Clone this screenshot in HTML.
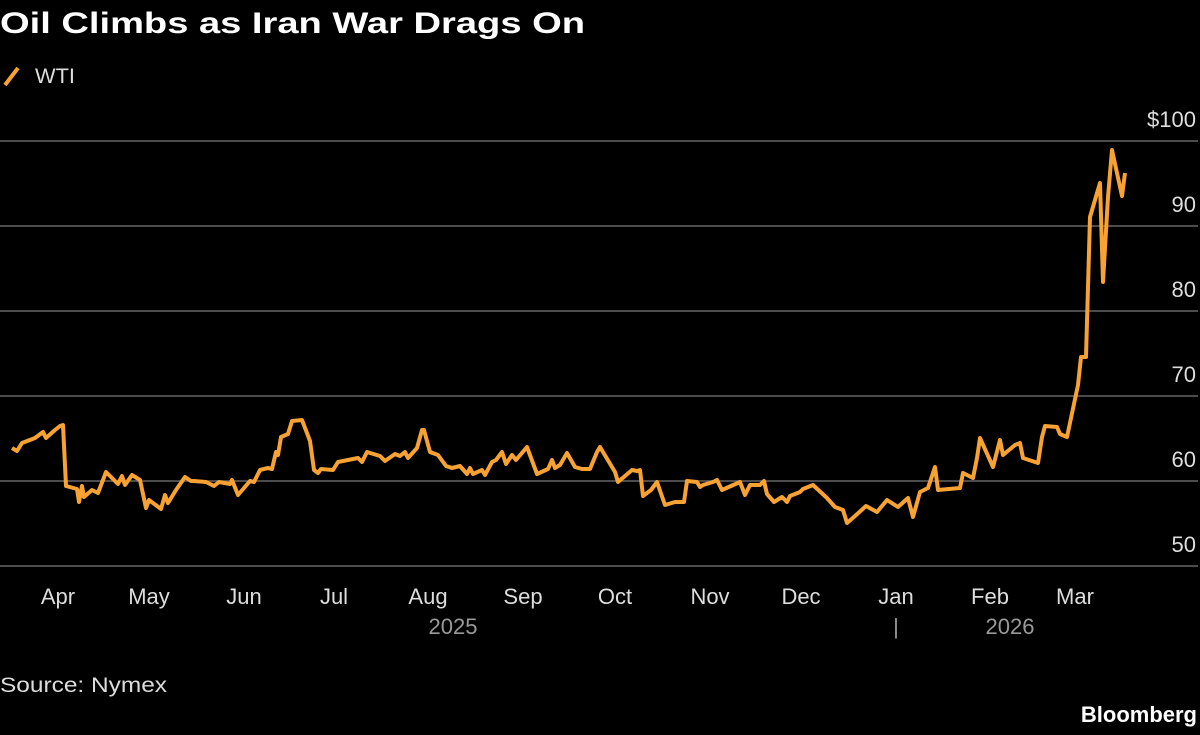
<!DOCTYPE html>
<html><head><meta charset="utf-8"><style>
body{margin:0;background:#000;width:1200px;height:730px;overflow:hidden;font-family:"Liberation Sans",sans-serif}
</style></head><body>
<svg width="1200" height="730" xmlns="http://www.w3.org/2000/svg" font-family="Liberation Sans, sans-serif">
<rect width="1200" height="730" fill="#000"/>
<text x="0" y="33" fill="#fff" font-size="30" font-weight="bold" textLength="585" lengthAdjust="spacingAndGlyphs">Oil Climbs as Iran War Drags On</text>
<line x1="5" y1="85" x2="18" y2="68" stroke="#f7a233" stroke-width="4"/>
<text x="35" y="83" fill="#ddd" font-size="21" textLength="40" lengthAdjust="spacingAndGlyphs">WTI</text>
<g stroke="#666" stroke-width="1.5">
<line x1="0" y1="141" x2="1198" y2="141"/><line x1="0" y1="226" x2="1198" y2="226"/>
<line x1="0" y1="311" x2="1198" y2="311"/><line x1="0" y1="396" x2="1198" y2="396"/>
<line x1="0" y1="481" x2="1198" y2="481"/><line x1="0" y1="566" x2="1198" y2="566"/>
</g>
<g fill="#ddd" font-size="22" text-anchor="end">
<text x="1196" y="127">$100</text><text x="1196" y="212">90</text><text x="1196" y="297">80</text>
<text x="1196" y="382">70</text><text x="1196" y="467">60</text><text x="1196" y="552">50</text>
</g>
<g fill="#ddd" font-size="22" text-anchor="middle">
<text x="58" y="604">Apr</text><text x="149" y="604">May</text><text x="244" y="604">Jun</text>
<text x="334" y="604">Jul</text><text x="428" y="604">Aug</text><text x="523" y="604">Sep</text>
<text x="615" y="604">Oct</text><text x="710" y="604">Nov</text><text x="801" y="604">Dec</text>
<text x="896" y="604">Jan</text><text x="990" y="604">Feb</text><text x="1075" y="604">Mar</text>
</g>
<g fill="#999" font-size="22" text-anchor="middle">
<text x="453" y="634">2025</text><text x="1010" y="634">2026</text>
<text x="896" y="634">|</text>
</g>
<polyline fill="none" stroke="#f7a233" stroke-width="4" stroke-linejoin="round" points="
12,448 17,451 22,443 35,438 43,432 46,438 55,430 60,426 63,425 66,486 77,489 79,502 82,486 84,497 92,490 98,493 106,472 118,484 122,476 125,485 132,475 140,480 146,508 149,500 161,509 165,495 168,503 176,490 185,477 191,481 194,481 206,482 214,486 219,482 230,484 232,480 238,495 250,481 254,482 260,470 268,468 272,469 276,452 278,455 281,437 288,434 292,421 302,420 310,441 314,470 318,473 321,469 333,470 338,462 358,458 362,462 367,452 380,456 385,461 395,454 400,456 405,452 408,458 417,448 422,430 424,430 430,452 438,455 446,466 452,468 460,466 467,474 470,468 473,474 482,470 485,475 492,462 496,460 502,452 506,464 512,455 516,460 527,447 537,474 548,469 552,460 555,468 560,465 567,453 575,467 582,469 590,469 597,452 600,447 615,472 618,482 632,470 637,471 640,470 643,496 651,490 657,482 665,505 675,502 684,502 687,481 697,482 700,487 703,485 713,482 717,480 722,490 740,482 745,495 750,485 760,485 764,481 767,494 774,502 782,497 787,502 790,496 800,492 803,489 813,485 827,498 835,507 843,510 847,523 855,516 866,506 877,512 887,500 898,507 908,498 913,517 920,492 928,488 935,467 938,490 960,488 963,473 973,478 977,458 980,438 993,467 1000,440 1003,455 1015,445 1020,443 1023,458 1038,463 1042,437 1045,426 1057,427 1060,434 1067,437 1078,385 1081,357 1086,357 1090,217 1100,183 1103,282 1108,197 1112,150 1122,196 1125,173"/>
<text x="0" y="692" fill="#ddd" font-size="21" textLength="167" lengthAdjust="spacingAndGlyphs">Source: Nymex</text>
<text x="1197" y="722" fill="#fff" font-size="22" font-weight="bold" text-anchor="end">Bloomberg</text>
</svg>
</body></html>
